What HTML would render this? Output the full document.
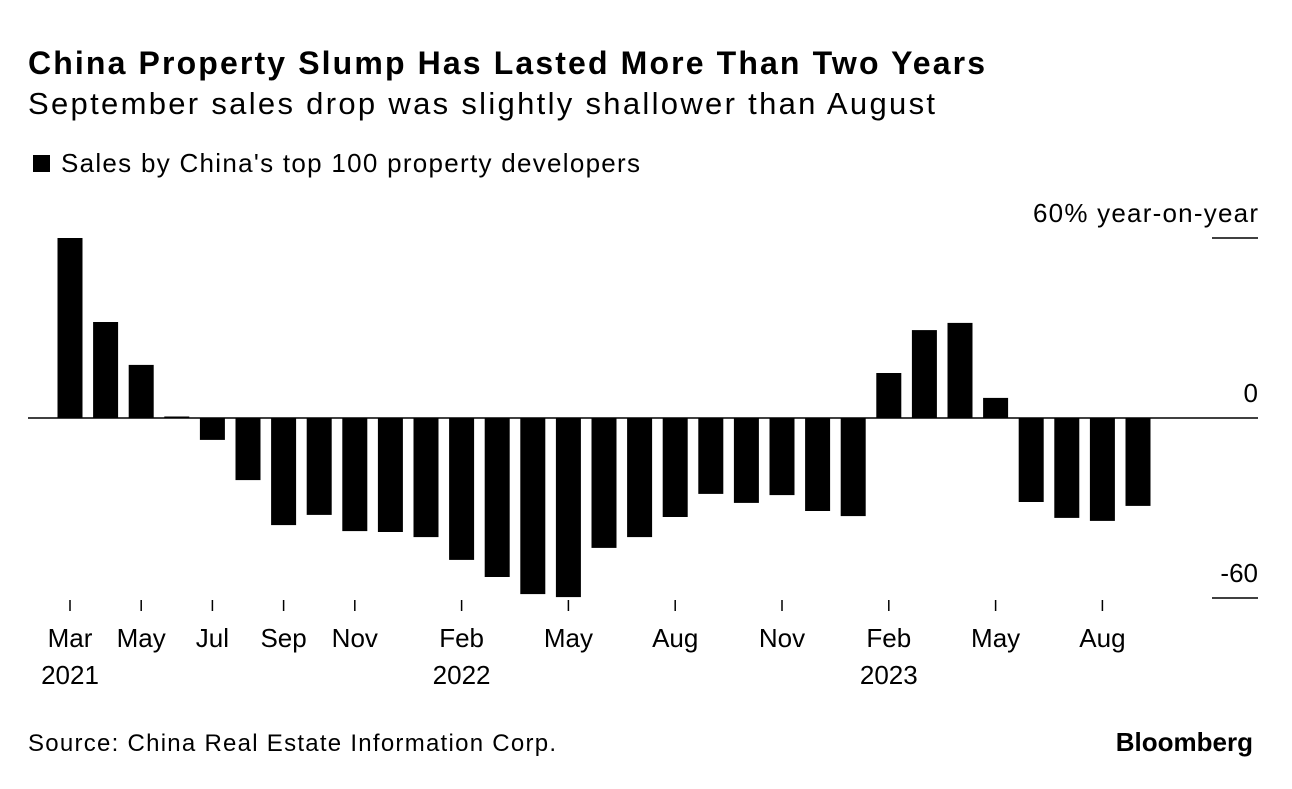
<!DOCTYPE html>
<html><head><meta charset="utf-8"><style>
body{margin:0;background:#fff;font-family:"Liberation Sans",sans-serif;}
svg text{font-family:"Liberation Sans",sans-serif;fill:#000;}
</style></head><body>
<svg width="1292" height="784" viewBox="0 0 1292 784">
<text x="28" y="74" font-size="32" font-weight="bold" textLength="957" lengthAdjust="spacing">China Property Slump Has Lasted More Than Two Years</text>
<text x="28" y="114" font-size="31" textLength="907" lengthAdjust="spacing">September sales drop was slightly shallower than August</text>
<rect x="33" y="155" width="17" height="17" fill="#000"/>
<text x="61" y="172" font-size="26" textLength="579" lengthAdjust="spacing">Sales by China's top 100 property developers</text>
<g id="bars"></g>
<g id="axes"></g>
<text x="28" y="751" font-size="24" textLength="528" lengthAdjust="spacing">Source: China Real Estate Information Corp.</text>
<text x="1253" y="751" font-size="26" font-weight="bold" text-anchor="end">Bloomberg</text>
</svg>
<script>
const values=[60,32,17.7,0.5,-7.3,-20.7,-35.7,-32.3,-37.7,-38,-39.7,-47.3,-53,-58.7,-59.7,-43.3,-39.7,-33,-25.3,-28.3,-25.7,-31,-32.7,15,29.3,31.7,6.7,-28,-33.3,-34.3,-29.3];
const tickLabels=["Mar","May","Jul","Sep","Nov","Feb","May","Aug","Nov","Feb","May","Aug"];
const tickIdx=[0,2,4,6,8,11,14,17,20,23,26,29];
const yearLabels=["2021","2022","2023"];
const yearIdx=[0,11,23];
const yTicks=[60,0,-60];
const ns="http://www.w3.org/2000/svg";
const xS=i=>70+i*35.6;
const yS=v=>418-v*3;
const bw=25;
const bars=document.getElementById('bars'),axes=document.getElementById('axes');
function mk(tag,attrs,parent){const e=document.createElementNS(ns,tag);for(const k in attrs)e.setAttribute(k,attrs[k]);parent.appendChild(e);return e;}
values.forEach((v,i)=>{
 const r=mk('rect',{x:xS(i)-bw/2,y:Math.min(yS(v),yS(0)),width:bw,height:Math.max(Math.abs(yS(v)-yS(0)),1),fill:'#000'},bars);
 
 
});
const zl=mk('line',{x1:28,x2:1258,y1:yS(0),y2:yS(0),stroke:'#000','stroke-width':1.5},axes);


yTicks.forEach(t=>{
 if(t!==0){const l=mk('line',{x1:1212,x2:1258,y1:yS(t),y2:yS(t),stroke:'#000','stroke-width':1.5},axes);
 
 }
 const attrs={x:1258,y:yS(t)-16,'font-size':26,'text-anchor':'end'};
 if(t===60){attrs.textLength=225;attrs.lengthAdjust='spacing';}
 const tx=mk('text',attrs,axes);
 tx.textContent=t===60?'60% year-on-year':String(t);
 
 
});
tickIdx.forEach((idx,k)=>{
 const l=mk('line',{x1:xS(idx),x2:xS(idx),y1:600,y2:611,stroke:'#000','stroke-width':1.5},axes);
 
 
 const t=mk('text',{x:xS(idx),y:647,'font-size':26,'text-anchor':'middle'},axes);
 t.textContent=tickLabels[k];
 
 
});
yearIdx.forEach((idx,k)=>{
 const t=mk('text',{x:xS(idx),y:684,'font-size':26,'text-anchor':'middle'},axes);
 t.textContent=yearLabels[k];
 
 
});
</script>
</body></html>
